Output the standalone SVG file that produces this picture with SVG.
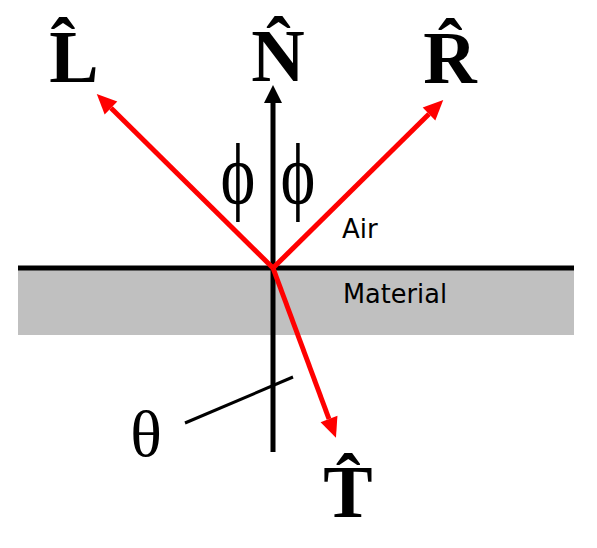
<svg xmlns="http://www.w3.org/2000/svg" width="597" height="548" viewBox="0 0 597 548">
<style>
.vec{font-family:"Liberation Serif","Times New Roman",serif;font-weight:bold;font-size:74px;fill:#000;text-anchor:middle}
.sym{font-family:"Liberation Serif","Times New Roman",serif;font-size:66px;fill:#000;text-anchor:middle}
.phi{font-family:"Liberation Serif","Times New Roman",serif;font-size:72px;fill:#000;text-anchor:middle}
.lbl{font-family:"DejaVu Sans",Verdana,sans-serif;font-size:26px;fill:#000}
.red{stroke:#ff0000;stroke-width:5;fill:none}
.blk{stroke:#000;fill:none}
</style>
<defs>
<marker id="ahR" markerUnits="userSpaceOnUse" markerWidth="22" markerHeight="20" refX="0" refY="9" orient="auto" overflow="visible">
<path d="M0,0 L20,9 L0,18 z" fill="#ff0000"/>
</marker>
<marker id="ahK" markerUnits="userSpaceOnUse" markerWidth="22" markerHeight="20" refX="0" refY="9" orient="auto" overflow="visible">
<path d="M0,0 L18,9 L0,18 z" fill="#000"/>
</marker>
</defs>
<g id="material">
<rect x="18" y="270" width="556" height="65" fill="#c0c0c0"/>
<text class="lbl" x="343" y="303" textLength="104" lengthAdjust="spacingAndGlyphs">Material</text>
</g>
<g id="air"><text class="lbl" x="342" y="238">Air</text></g>
<g id="connectors">
<line class="blk" x1="18" y1="268" x2="574" y2="268" stroke-width="5"/>
<line class="blk" x1="273" y1="452" x2="273" y2="103" stroke-width="5" marker-end="url(#ahK)"/>
<line class="red" x1="273" y1="268" x2="111" y2="108" marker-end="url(#ahR)"/>
<line class="red" x1="273" y1="268" x2="429" y2="114" marker-end="url(#ahR)"/>
<line class="red" x1="273" y1="268" x2="329" y2="419" marker-end="url(#ahR)"/>
<line class="blk" x1="185" y1="423" x2="293" y2="377" stroke-width="3"/>
</g>
<g id="L"><text class="vec" x="74" y="82">L̂</text></g>
<g id="N"><text class="vec" x="278" y="81">N̂</text></g>
<g id="R"><text class="vec" x="450" y="83">R̂</text></g>
<g id="T"><text class="vec" x="348" y="517">T̂</text></g>
<g id="phi1"><text class="phi" transform="translate(238,203) scale(0.92,1.2)">ϕ</text></g>
<g id="phi2"><text class="phi" transform="translate(298,203) scale(0.92,1.2)">ϕ</text></g>
<g id="theta"><text class="sym" x="146" y="456">θ</text></g>
</svg>
